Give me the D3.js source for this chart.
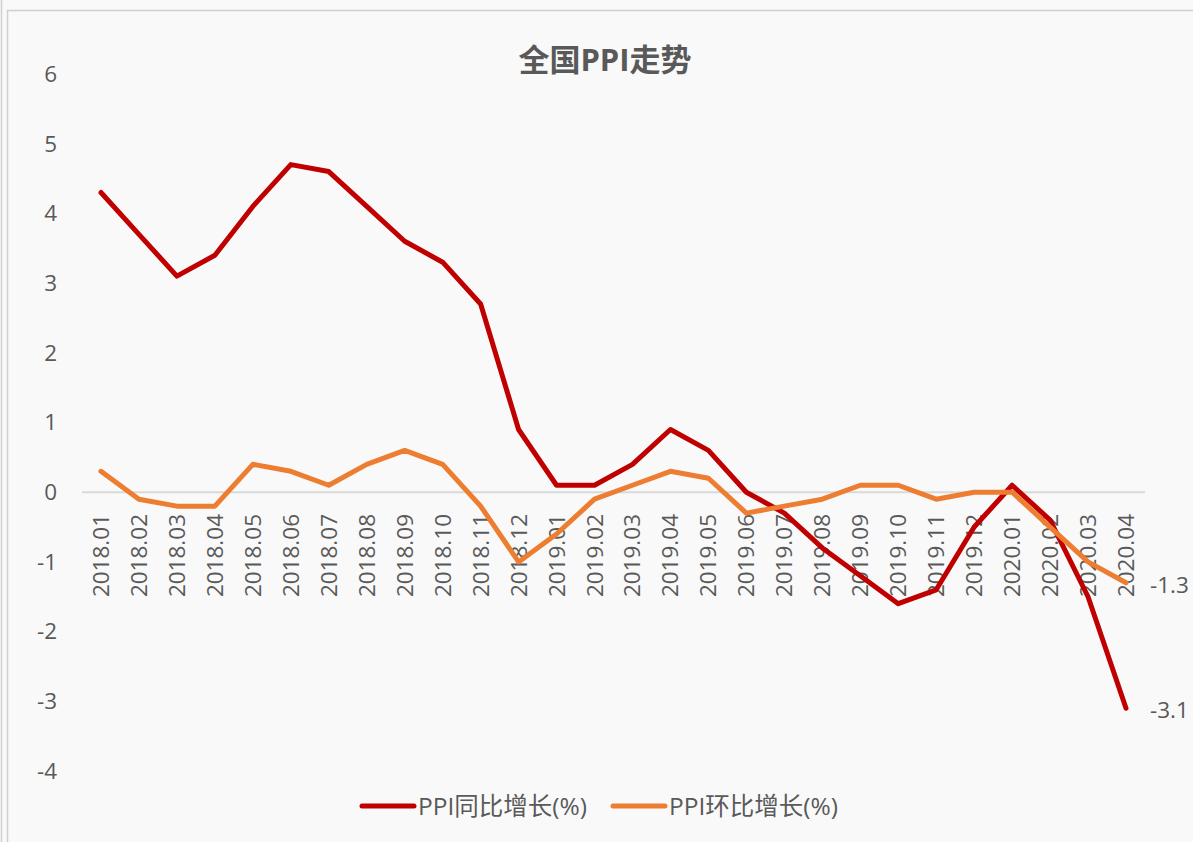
<!DOCTYPE html>
<html>
<head>
<meta charset="utf-8">
<script src="https://cdn.jsdelivr.net/npm/d3@7"></script>
<style>
  html, body { margin: 0; padding: 0; background: #f9f9f9; }
  #chart text { font-family: "Open Sans", "Noto Sans CJK SC", sans-serif; fill: #595959; }
</style>
</head>
<body>
<div id="chart"></div>
<script>
const months = ["2018.01","2018.02","2018.03","2018.04","2018.05","2018.06","2018.07","2018.08","2018.09","2018.10","2018.11","2018.12",
  "2019.01","2019.02","2019.03","2019.04","2019.05","2019.06","2019.07","2019.08","2019.09","2019.10","2019.11","2019.12",
  "2020.01","2020.02","2020.03","2020.04"];
const yoy = [4.3,3.7,3.1,3.4,4.1,4.7,4.6,4.1,3.6,3.3,2.7,0.9,0.1,0.1,0.4,0.9,0.6,0.0,-0.3,-0.8,-1.2,-1.6,-1.4,-0.5,0.1,-0.4,-1.5,-3.1];
const mom = [0.3,-0.1,-0.2,-0.2,0.4,0.3,0.1,0.4,0.6,0.4,-0.2,-1.0,-0.6,-0.1,0.1,0.3,0.2,-0.3,-0.2,-0.1,0.1,0.1,-0.1,0.0,0.0,-0.5,-1.0,-1.3];
const yTicks = [6,5,4,3,2,1,0,-1,-2,-3,-4];
const seriesNames = ["PPI同比增长(%)", "PPI环比增长(%)"];
const colors = ["#c00000", "#ed7d31"];

const width = 1193, height = 842;
const svg = d3.select("#chart").append("svg")
  .attr("width", width).attr("height", height);

// frame
svg.append("line").attr("x1", 1.5).attr("x2", 1.5).attr("y1", 0).attr("y2", height)
  .attr("stroke", "#d0d0d0").attr("stroke-width", 1.5);
svg.append("rect").attr("x", 7.5).attr("y", 10.5).attr("width", width).attr("height", height)
  .attr("fill", "#f9f9f9").attr("stroke", "#d0d0d0").attr("stroke-width", 1.5);

const x = d3.scaleBand().domain(months).range([82, 1145]);
const y = d3.scaleLinear().domain([-4, 6]).range([771, 74]);
const cx = d => x(d) + x.bandwidth() / 2;

svg.append("text").attr("x", 605).attr("y", 71).attr("text-anchor", "middle")
  .style("font-size", "31px").style("font-weight", "bold").text("全国PPI走势");

// y axis labels
svg.append("g").selectAll("text").data(yTicks).enter().append("text")
  .attr("x", 57).attr("y", d => y(d)).attr("dy", "0.35em")
  .attr("text-anchor", "end").style("font-size", "22.5px")
  .text(d => d);

// zero line
svg.append("line").attr("x1", 82).attr("x2", 1145).attr("y1", y(0)).attr("y2", y(0))
  .attr("stroke", "#d9d9d9").attr("stroke-width", 2);

// x labels
svg.append("g").selectAll("text").data(months).enter().append("text")
  .attr("transform", d => `translate(${cx(d) + 8},${514}) rotate(-90)`)
  .attr("text-anchor", "end").style("font-size", "22.5px")
  .text(d => d);

const line = d3.line().x((d, i) => cx(months[i])).y(d => y(d));
[yoy, mom].forEach((s, k) => {
  svg.append("path").datum(s).attr("d", line)
    .attr("fill", "none").attr("stroke", colors[k]).attr("stroke-width", 5)
    .attr("stroke-linejoin", "round").attr("stroke-linecap", "round");
});

// end labels
[yoy, mom].forEach(s => {
  const last = s[s.length - 1];
  svg.append("text").attr("x", 1150).attr("y", y(last) + 2).attr("dy", "0.35em")
    .style("font-size", "22.5px").text(last.toFixed(1));
});

// legend
const legendX = [362, 613];
seriesNames.forEach((n, k) => {
  svg.append("line").attr("x1", legendX[k]).attr("x2", legendX[k] + 52)
    .attr("y1", 806).attr("y2", 806)
    .attr("stroke", colors[k]).attr("stroke-width", 5).attr("stroke-linecap", "round");
  svg.append("text").attr("x", legendX[k] + 56).attr("y", 806).attr("dy", "0.35em")
    .style("font-size", "24.5px").text(n);
});
</script>
</body>
</html>
